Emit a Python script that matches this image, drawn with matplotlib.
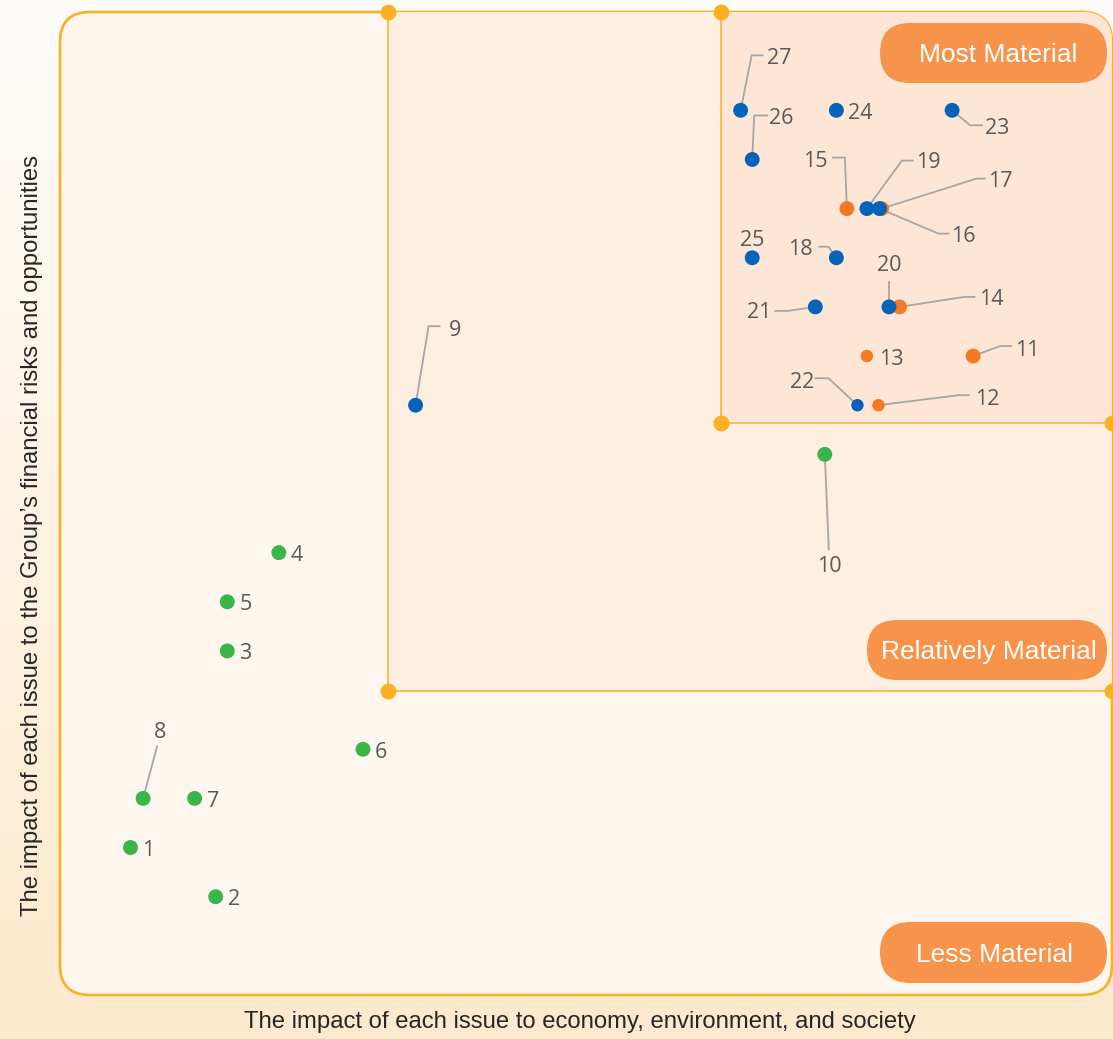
import matplotlib.pyplot as plt
from matplotlib.patches import FancyBboxPatch, Rectangle
import numpy as np

# materiality matrix: issue number, score on the two axes, colour group
issues = [1, 2, 3, 4, 5, 6, 7, 8, 9, 10, 11, 12, 13, 14, 15, 16, 17, 18, 19, 20,
          21, 22, 23, 24, 25, 26, 27]
impact_society = [0.67, 1.48, 1.59, 2.08, 1.59, 2.88, 1.28, 0.79, 3.38, 7.27,
                  8.68, 7.78, 7.67, 7.98, 7.48, 7.79, 7.81, 7.38, 7.67, 7.88,
                  7.18, 7.58, 8.48, 7.38, 6.58, 6.58, 6.47]
impact_financial = [1.5, 1.0, 3.5, 4.5, 4.0, 2.5, 2.0, 2.0, 6.0, 5.5,
                    6.5, 6.0, 6.5, 7.0, 8.0, 8.0, 8.0, 7.5, 8.0, 7.0,
                    7.0, 6.0, 9.0, 9.0, 7.5, 8.5, 9.0]
group = ['green'] * 8 + ['blue', 'green'] + ['orange'] * 5 + ['blue', 'orange'] + ['blue'] * 10

# materiality thresholds (x, y) for "relatively" and "most" material
relative_cut = (3.12, 3.09)
most_cut = (6.28, 5.82)

badges = ['Most Material', 'Relatively Material', 'Less Material']

colors = {'green': '#39B54A', 'blue': '#0563B8', 'orange': '#F37A22'}
line_c = '#FBB024'
small_marks = {12, 13, 22}

# callout layout in pixels relative to the dot (y grows downward): leader path, text centre
callouts = {
    27: ([(0, 0), (11, -55), (22, -55)], (39, -54)),
    26: ([(0, 0), (2, -44), (15, -44)], (29, -43)),
    23: ([(0, 0), (18, 15), (30, 15)], (45, 16)),
    15: ([(0, 0), (-2, -51), (-14, -51)], (-32, -49)),
    19: ([(0, 0), (35, -48), (46, -48)], (61, -48)),
    17: ([(0, 0), (95, -30), (103, -30)], (119, -29)),
    16: ([(0, 0), (59, 25), (69, 25)], (84, 26)),
    25: ([], (0, -19)),
    18: ([(0, 0), (-8, -11), (-17, -11)], (-36, -10)),
    20: ([(0, 0), (0, -25)], (0, -43)),
    14: ([(0, 0), (65, -10), (75, -10)], (92, -9)),
    21: ([(0, 0), (-28, 4), (-40, 4)], (-56, 4)),
    11: ([(0, 0), (27, -10), (38, -10)], (54, -8)),
    22: ([(0, 0), (-29, -27), (-42, -27)], (-55, -25)),
    12: ([(0, 0), (80, -10), (90, -10)], (109, -8)),
    9: ([(0, 0), (13, -79), (24, -79)], (39, -77)),
    10: ([(0, 0), (4, 95)], (5, 110)),
    8: ([(0, 0), (14, -52)], (17, -68)),
}

W, H = 1113, 1039
fig = plt.figure(figsize=(W / 100, H / 100), dpi=100)

# soft vertical gradient behind everything
bg = fig.add_axes([0, 0, 1, 1], zorder=-1)
top = np.array([254, 253, 250]) / 255
bottom = np.array([253, 233, 205]) / 255
t = np.linspace(0, 1, 256)[:, None]
grad = top * (1 - t) + bottom * t
bg.imshow(grad[:, None, :], aspect='auto', extent=[0, 1, 0, 1])
bg.axis('off')

left, right, ytop, ybot = 60, 1112, 12, 995
ax = fig.add_axes([left / W, 1 - ybot / H, (right - left) / W, (ybot - ytop) / H])
ax.set_xlim(0, 10)
ax.set_ylim(0, 10)
ax.axis('off')
sx = (right - left) / 10
sy = (ybot - ytop) / 10
aspect = sx / sy

box = FancyBboxPatch((0, 0), 10, 10, boxstyle='round,pad=0,rounding_size=%.3f' % (30 / sx),
                     mutation_aspect=aspect, fc='#FEF6EF', ec=line_c, lw=1.9,
                     clip_on=False, zorder=1)
ax.add_patch(box)

for (cx, cy), fc in [(relative_cut, '#FEEFE1'), (most_cut, '#FDE6D6')]:
    r = Rectangle((cx, cy), 10 - cx, 10 - cy, fc=fc, ec='none', zorder=1.5)
    ax.add_patch(r)
    r.set_clip_path(box)
    ax.plot([cx, cx, 10], [10, cy, cy], color=line_c, lw=1.1, zorder=2,
            clip_on=False, solid_joinstyle='miter')
    ax.scatter([cx, cx, 10], [10, cy, cy], s=130, color=line_c, zorder=2.5,
               clip_on=False, linewidths=0)

# pill badges for the three zones (pixel layout)
pill_px = [(880, 1107, 23, 83, 998), (867, 1107, 620, 680, 989), (880, 1107, 922, 983, 995)]
for label, (x0, x1, y0, y1, tx) in zip(badges, pill_px):
    h = (y1 - y0) / sy
    pill = FancyBboxPatch(((x0 - left) / sx, (ybot - y1) / sy), (x1 - x0) / sx, h,
                          boxstyle='round,pad=0,rounding_size=%.3f' % ((y1 - y0) / 2 / sx),
                          mutation_aspect=aspect, fc='#F7934A', ec='none',
                          clip_on=False, zorder=3)
    ax.add_patch(pill)
    ax.text((tx - left) / sx, (ybot - (y0 + y1) / 2 - 2) / sy, label, color='white',
            fontsize=19, family='Liberation Sans', ha='center', va='center', zorder=4)

# leader lines and labels
label_font = dict(fontsize=15.5, family='Open Sans', color='#595959', zorder=6)
for i, x, y in zip(issues, impact_society, impact_financial):
    if i in callouts:
        path, (tdx, tdy) = callouts[i]
        if path:
            ax.plot([x + dx / sx for dx, dy in path], [y - dy / sy for dx, dy in path],
                    color='#A6A6A6', lw=1.3, zorder=4, clip_on=False)
        ax.text(x + tdx / sx, y - (tdy + 2) / sy, str(i), ha='center', va='center', **label_font)
    else:
        ax.text(x + 12 / sx, y - 3 / sy, str(i), ha='left', va='center', **label_font)

for g in ['green', 'orange', 'blue']:
    xs = [x for x, gg in zip(impact_society, group) if gg == g]
    ys = [y for y, gg in zip(impact_financial, group) if gg == g]
    sizes = [80 if i in small_marks else 115 for i, gg in zip(issues, group) if gg == g]
    ax.scatter(xs, ys, s=sizes, color=colors[g], linewidths=0, zorder=5)

fig.text(580 / W, 1 - 1022 / H, 'The impact of each issue to economy, environment, and society',
         ha='center', va='center', fontsize=17.2, family='Liberation Sans', color='#262626')
fig.text(32 / W, 1 - 535 / H,
         'The impact of each issue to the Group\u2019s financial risks and opportunities',
         ha='center', va='center', rotation=90, fontsize=17.2, family='Liberation Sans',
         color='#262626')

fig.savefig('out.png', dpi=100)
